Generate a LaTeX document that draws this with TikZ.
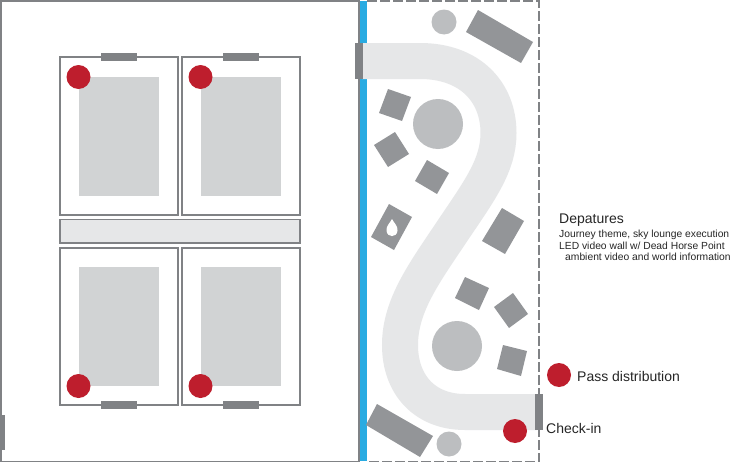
\documentclass[tikz,border=0pt]{standalone}
\usepackage{fontspec}
\setmainfont{Liberation Sans}
\definecolor{wallgray}{HTML}{808285}
\definecolor{furn}{HTML}{939598}
\definecolor{tabgray}{HTML}{808285}
\definecolor{carpet}{HTML}{E6E7E8}
\definecolor{block}{HTML}{D1D3D4}
\definecolor{disc}{HTML}{BCBEC0}
\definecolor{pin}{HTML}{BE1E2D}
\definecolor{wallblue}{HTML}{29ABE2}
\tikzset{
  wall/.style={draw=wallgray,line width=1.6pt},
  room/.style={draw=wallgray,line width=1.6pt,fill=white},
  tab/.style={fill=tabgray},
  inner/.style={fill=block},
  furniture/.style={fill=furn},
  marker/.style={circle,fill=pin,inner sep=0pt,minimum size=24pt},
  roundel/.style={circle,fill=disc,inner sep=0pt},
  lbl/.style={inner sep=0pt,anchor=west,text=black!85}
}
\begin{document}
\begin{tikzpicture}[x=1pt,y=-1pt]
\useasboundingbox (0,0) rectangle (748,463);
\fill[white] (0,0) rectangle (748,463);
% outer walls
\draw[wall] (1,1) rectangle (359,461.5);
\fill[wallblue] (360,1) rectangle (366.5,461);
\draw[wall,dash pattern=on 10pt off 3pt] (367,1) -- (539,1) -- (539,461.5) -- (367,461.5);
\fill[tab] (0,415) rectangle (5,450);
% rooms
\draw[room] (60,57) rectangle (178,215);
\draw[room] (182,57) rectangle (300,215);
\draw[room] (60,248) rectangle (178,405);
\draw[room] (182,248) rectangle (300,405);
\draw[wall,fill=carpet] (60,219.5) rectangle (300,243);
\fill[inner] (79,77) rectangle (159,196);
\fill[inner] (201,77) rectangle (281,196);
\fill[inner] (79,266.5) rectangle (159,386);
\fill[inner] (201,266.5) rectangle (281,386);
\fill[tab] (101,52.5) rectangle (137,60.5);
\fill[tab] (223,52.5) rectangle (259,60.5);
\fill[tab] (101,401) rectangle (137,409);
\fill[tab] (223,401) rectangle (259,409);
\node[marker] (m1) at (78.5,77) {};
\node[marker] (m2) at (200.5,77) {};
\node[marker] (m3) at (78.5,386) {};
\node[marker] (m4) at (200.5,386) {};
% carpet path
\draw[carpet,line width=36pt] (362,61) -- (420,61)
  .. controls (470,61) and (498.5,92) .. (498.5,133)
  .. controls (498.5,165) and (480,190) .. (453,230)
  .. controls (425,272) and (400,305) .. (400,345)
  .. controls (400,385) and (425,412) .. (465,412)
  -- (537,412);
\fill[tab] (354.5,43) rectangle (363,79);
\fill[tab] (535,394) rectangle (543,430);
% furniture
\node[roundel,minimum size=25pt] (c1) at (444,22) {};
\node[roundel,minimum size=50pt] (c2) at (438,124) {};
\node[roundel,minimum size=50pt] (c3) at (457,346) {};
\node[roundel,minimum size=25pt] (c4) at (449,444) {};
\fill[furniture] (478,10) -- (533,42) -- (521,63) -- (466,32) -- cycle;
\fill[furniture] (388,89) -- (411,97) -- (402,121) -- (379,113) -- cycle;
\fill[furniture] (395,132) -- (409,154) -- (388,167) -- (374,145) -- cycle;
\fill[furniture] (427,160) -- (449,173) -- (437,194) -- (415,181) -- cycle;
\fill[furniture] (502,208) -- (524,221) -- (505,254) -- (482,241) -- cycle;
\fill[furniture] (465,277) -- (489,288) -- (479,310) -- (455,298) -- cycle;
\fill[furniture] (513,293) -- (528,314) -- (509,328) -- (494,307) -- cycle;
\fill[furniture] (503,345) -- (527,351) -- (521,376) -- (497,369) -- cycle;
\fill[furniture] (377,404) -- (433,436) -- (420,457) -- (366,425) -- cycle;
\fill[furniture] (389,204) -- (412,217) -- (394,250) -- (371,237) -- cycle;
\fill[white] (392,219) .. controls (394,223) and (398,226) .. (397.5,230.5)
  .. controls (397,238) and (387,238) .. (386.5,230.5)
  .. controls (386,226) and (390,223) .. (392,219) -- cycle;
% pins
\node[marker] (p1) at (559,375) {};
\node[marker] (p2) at (515,431) {};
% labels
\node[lbl,font=\fontsize{14}{16}\selectfont] (t1) at (559,220) {Depatures};
\node[lbl,font=\fontsize{10.3}{12}\selectfont] (t2) at (559,235) {Journey theme, sky lounge execution};
\node[lbl,font=\fontsize{10.3}{12}\selectfont] (t3) at (559,245.5) {LED video wall w/ Dead Horse Point};
\node[lbl,font=\fontsize{10.3}{12}\selectfont] (t4) at (565,257) {ambient video and world information};
\node[lbl,font=\fontsize{14}{16}\selectfont] (t5) at (577,376) {Pass distribution};
\node[lbl,font=\fontsize{14}{16}\selectfont] (t6) at (546,428) {Check-in};
\end{tikzpicture}
\end{document}
